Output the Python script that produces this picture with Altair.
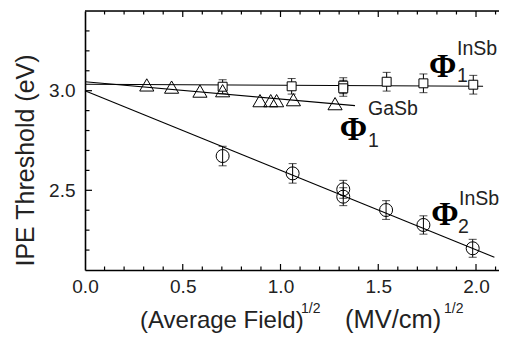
import altair as alt
import pandas as pd

# ---- data ----
# Phi1 InSb (open squares, with error bars)
sq_x = [0.704, 1.057, 1.321, 1.321, 1.543, 1.731, 1.986]
sq_y = [3.020, 3.022, 3.025, 3.012, 3.045, 3.037, 3.030]
sq_err = [0.035, 0.039, 0.040, 0.040, 0.047, 0.047, 0.047]

# Phi1 GaSb (open triangles)
tri_x = [0.316, 0.443, 0.588, 0.704, 0.895, 0.950, 0.980, 1.066, 1.279]
tri_y = [3.029, 3.018, 2.998, 3.000, 2.950, 2.950, 2.950, 2.955, 2.935]

# Phi2 InSb (open circles, with error bars)
ci_x = [0.704, 1.062, 1.321, 1.321, 1.540, 1.731, 1.983]
ci_y = [2.672, 2.585, 2.505, 2.468, 2.401, 2.326, 2.209]
ci_err = [0.049, 0.049, 0.045, 0.045, 0.047, 0.046, 0.045]

# fitted lines (end points)
fit1_x = [0.0, 2.036]
fit1_y = [3.032, 3.022]
fitg_x = [0.0, 1.381]
fitg_y = [3.045, 2.925]
fit2_x = [0.0, 2.094]
fit2_y = [3.000, 2.164]

# ticks
x_major = [0.5, 1.0, 1.5, 2.0]
x_minor = [0.1, 0.2, 0.3, 0.4, 0.6, 0.7, 0.8, 0.9, 1.1, 1.2, 1.3, 1.4, 1.6, 1.7, 1.8, 1.9, 2.1]
x_labels = [0.0, 0.5, 1.0, 1.5, 2.0]
y_major = [2.5, 3.0]
y_minor = [2.2, 2.3, 2.4, 2.6, 2.7, 2.8, 2.9, 3.1, 3.2, 3.3]

# annotation labels (text, x, y in data units)
ann_text = ["Φ", "1", "InSb", "Φ", "1", "GaSb", "Φ", "2", "InSb"]
ann_x = [1.829, 1.903, 1.903, 1.373, 1.448, 1.448, 1.841, 1.908, 1.913]
ann_y = [3.069, 3.044, 3.179, 2.752, 2.717, 2.878, 2.326, 2.286, 2.426]
ann_serif = [True, False, False, True, False, False, True, False, False]

W, H = 414, 259
XD = [0, 2.1176]
YD = [2.1, 3.4]
xs = alt.Scale(domain=XD, nice=False, zero=False)
ys = alt.Scale(domain=YD, nice=False, zero=False)

X_AXIS = alt.Axis(title=None, values=x_labels, format=".1f", ticks=False, tickSize=0,
                  labelFontSize=19, labelPadding=7, labelFlush=False, domainColor="black",
                  domainWidth=1.6, labelColor="#222", grid=False, labelFont="Liberation Sans")
Y_AXIS = alt.Axis(title="IPE Threshold (eV)", values=y_major, format=".1f", ticks=False, tickSize=0,
                  labelFontSize=19, labelPadding=10, labelFlush=False, domainColor="black",
                  domainWidth=1.6, labelColor="#222", grid=False, labelFont="Liberation Sans",
                  titleFont="Liberation Sans", titleFontSize=25, titleFontWeight="normal",
                  titleColor="#222", titleY=149, titlePadding=10)

def X(f):
    return alt.X(f, type="quantitative", scale=xs, axis=X_AXIS)

def Y(f):
    return alt.Y(f, type="quantitative", scale=ys, axis=Y_AXIS)

sq = pd.DataFrame({"x": sq_x, "y": sq_y, "e": sq_err})
sq["lo"] = sq["y"] - sq["e"]
sq["hi"] = sq["y"] + sq["e"]
ci = pd.DataFrame({"x": ci_x, "y": ci_y, "e": ci_err})
ci["lo"] = ci["y"] - ci["e"]
ci["hi"] = ci["y"] + ci["e"]
tri = pd.DataFrame({"x": tri_x, "y": tri_y})

layers = []

def line(xv, yv):
    d = pd.DataFrame({"x": xv, "y": yv})
    return alt.Chart(d).mark_line(color="black", strokeWidth=1.1).encode(x=X("x"), y=Y("y"))

layers += [line(fit1_x, fit1_y), line(fitg_x, fitg_y), line(fit2_x, fit2_y)]

for d in (sq, ci):
    layers.append(alt.Chart(d).mark_rule(color="black", strokeWidth=1).encode(
        x=X("x"), y=Y("lo"), y2="hi"))
    for c in ("lo", "hi"):
        layers.append(alt.Chart(d).mark_tick(orient="horizontal", color="black", size=8,
                                             thickness=1).encode(x=X("x"), y=Y(c)))

layers.append(alt.Chart(sq).mark_point(shape="square", filled=True, fill="white", size=80,
                                       stroke="black", strokeWidth=1, opacity=1).encode(x=X("x"), y=Y("y")))
layers.append(alt.Chart(ci).mark_point(shape="circle", filled=False, size=169,
                                       stroke="black", strokeWidth=1, opacity=1).encode(x=X("x"), y=Y("y")))
layers.append(alt.Chart(tri).mark_point(shape="triangle-up", filled=False, size=200,
                                        stroke="black", strokeWidth=1, opacity=1).encode(x=X("x"), y=Y("y")))

# ticks (inward) and top border
xmaj = pd.DataFrame({"v": x_major})
xmin = pd.DataFrame({"v": x_minor})
ymaj = pd.DataFrame({"v": y_major})
ymin = pd.DataFrame({"v": y_minor})
for d, L in ((xmaj, 6), (xmin, 3.5)):
    layers.append(alt.Chart(d).mark_rule(color="black", strokeWidth=1.2).encode(
        x=X("v"), y=alt.value(H), y2=alt.value(H - L)))
    layers.append(alt.Chart(d).mark_rule(color="black", strokeWidth=1.2).encode(
        x=X("v"), y=alt.value(0), y2=alt.value(L)))
for d, L in ((ymaj, 7), (ymin, 4.5)):
    layers.append(alt.Chart(d).mark_rule(color="black", strokeWidth=1.2).encode(
        y=Y("v"), x=alt.value(0), x2=alt.value(L)))
layers.append(alt.Chart(pd.DataFrame({"a": [0]})).mark_rule(color="black", strokeWidth=1.6).encode(
    x=alt.value(0), x2=alt.value(W), y=alt.value(0)))

# annotation labels
ann = pd.DataFrame({"t": ann_text, "x": ann_x, "y": ann_y, "serif": ann_serif})
layers.append(alt.Chart(ann[ann.serif]).mark_text(font="Liberation Serif", fontSize=33, fontWeight="bold",
                                                  align="center", baseline="alphabetic", color="black").encode(
    x=X("x"), y=Y("y"), text="t"))
layers.append(alt.Chart(ann[~ann.serif]).mark_text(font="Liberation Sans", fontSize=19.5, align="left",
                                                   baseline="alphabetic", color="#222").encode(
    x=X("x"), y=Y("y"), text="t"))

# x-axis title with superscripts
xt_text = ["(Average Field)", "1/2", "(MV/cm)", "1/2"]
xt_px = [55, 216, 260, 359]
xt_py = [317, 302, 317, 302]
xt_size = [24, 14, 25.5, 14]
for t, px, py, s in zip(xt_text, xt_px, xt_py, xt_size):
    layers.append(alt.Chart(pd.DataFrame({"t": [t]})).mark_text(
        font="Liberation Sans", fontSize=s, align="left", baseline="alphabetic", color="#222").encode(
        x=alt.value(px), y=alt.value(py), text="t"))

chart = alt.layer(*layers).properties(
    width=W, height=H,
    autosize=alt.AutoSizeParams(type="none"),
    padding={"left": 77, "top": 3, "right": 0, "bottom": 63},
).configure_view(stroke=None).configure(background="white")

chart.save("out.html", embed_options={"renderer": "svg", "actions": False})
